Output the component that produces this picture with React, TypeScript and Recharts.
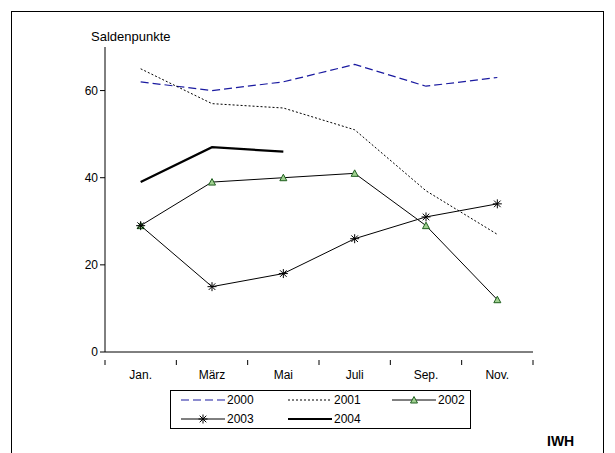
import { LineChart, Line, XAxis, YAxis } from 'recharts';

const months = ['Jan.', 'März', 'Mai', 'Juli', 'Sep.', 'Nov.'];
const s2000 = [62, 60, 62, 66, 61, 63];
const s2001 = [65, 57, 56, 51, 37, 27];
const s2002 = [29, 39, 40, 41, 29, 12];
const s2003 = [29, 15, 18, 26, 31, 34];
const s2004 = [39, 47, 46, null, null, null];
const yTicks = [0, 20, 40, 60];

const data = months.map((m, i) => ({
  m, x: i + 0.5, a: s2000[i], b: s2001[i], c: s2002[i], d: s2003[i], e: s2004[i],
}));
const xTicks = Array.from({ length: 13 }, (_, i) => i / 2);

const Tri = (p: any) => {
  const { cx, cy } = p;
  if (cy == null) return null;
  return <polygon key={p.index} points={`${cx},${cy - 3.5} ${cx - 3.5},${cy + 3} ${cx + 3.5},${cy + 3}`} fill="#a0d090" stroke="#206020" strokeWidth={1} />;
};
const Star = (p: any) => {
  const { cx, cy } = p;
  if (cy == null) return null;
  const r = 4.5;
  return (
    <g key={p.index} stroke="#000" strokeWidth={1}>
      <line x1={cx - r} y1={cy} x2={cx + r} y2={cy} />
      <line x1={cx} y1={cy - r} x2={cx} y2={cy + r} />
      <line x1={cx - 3.3} y1={cy - 3.3} x2={cx + 3.3} y2={cy + 3.3} />
      <line x1={cx - 3.3} y1={cy + 3.3} x2={cx + 3.3} y2={cy - 3.3} />
    </g>
  );
};

const XTick = (p: any) => {
  const { x, y, payload } = p;
  const v = payload.value;
  if (Number.isInteger(v)) return <line x1={x} y1={y} x2={x} y2={y + 5} stroke="#000" />;
  return <text x={x} y={y + 19} textAnchor="middle" fontSize={12} fontFamily="Liberation Sans, Arial, sans-serif">{months[Math.floor(v)]}</text>;
};

const legend = [
  { name: '2000', x: 181, y: 400, stroke: '#1a1aa0', dash: '8 4', w: 1.2, mark: null },
  { name: '2001', x: 288, y: 400, stroke: '#000', dash: '2 2', w: 1, mark: null },
  { name: '2002', x: 392, y: 400, stroke: '#000', dash: undefined, w: 1, mark: 'tri' },
  { name: '2003', x: 181, y: 419, stroke: '#000', dash: undefined, w: 1, mark: 'star' },
  { name: '2004', x: 288, y: 419, stroke: '#000', dash: undefined, w: 2.2, mark: null },
];

export default function App() {
  const font = { fontFamily: 'Liberation Sans, Arial, sans-serif', fontSize: 12, fill: '#000' };
  return (
    <div style={{ position: 'absolute', left: 0, top: 0, width: 615, height: 453, background: '#fff', fontFamily: 'Liberation Sans, Arial, sans-serif' }}>
      <div style={{ position: 'absolute', left: 11, top: 11, width: 591, height: 450, border: '1px solid #000' }} />
      <LineChart width={615} height={453} data={data} margin={{ top: 47, right: 82, bottom: 71, left: 65 }}>
        <XAxis dataKey="x" type="number" domain={[0, 6]} ticks={xTicks} interval={0} stroke="#000" tickLine={false} tick={XTick} height={30} />
        <YAxis domain={[0, 70]} ticks={yTicks} width={40} stroke="#000" tick={font} tickSize={5} />
        <Line dataKey="a" stroke="#1a1aa0" strokeDasharray="8 4" strokeWidth={1.2} dot={false} isAnimationActive={false} />
        <Line dataKey="b" stroke="#000" strokeDasharray="2 2" strokeWidth={1} dot={false} isAnimationActive={false} />
        <Line dataKey="c" stroke="#000" strokeWidth={1} dot={Tri} isAnimationActive={false} />
        <Line dataKey="d" stroke="#000" strokeWidth={1} dot={Star} isAnimationActive={false} />
        <Line dataKey="e" stroke="#000" strokeWidth={2.2} dot={false} isAnimationActive={false} />
      </LineChart>
      <div style={{ position: 'absolute', left: 91, top: 29, fontSize: 13 }}>Saldenpunkte</div>
      <div style={{ position: 'absolute', left: 170, top: 390, width: 299, height: 37, border: '1px solid #000' }} />
      <svg style={{ position: 'absolute', left: 0, top: 0 }} width={615} height={453}>
        {legend.map((l) => (
          <g key={l.name}>
            <line x1={l.x} y1={l.y} x2={l.x + 44} y2={l.y} stroke={l.stroke} strokeDasharray={l.dash} strokeWidth={l.w} />
            {l.mark === 'tri' && <Tri cx={l.x + 22} cy={l.y} />}
            {l.mark === 'star' && <Star cx={l.x + 22} cy={l.y} />}
            <text x={l.x + 46} y={l.y + 4} style={{ fontSize: 12 }} fontFamily="Liberation Sans, Arial, sans-serif">{l.name}</text>
          </g>
        ))}
        <text x={547} y={446} fontWeight="bold" fontSize={14} fontFamily="Liberation Sans, Arial, sans-serif">IWH</text>
      </svg>
    </div>
  );
}
